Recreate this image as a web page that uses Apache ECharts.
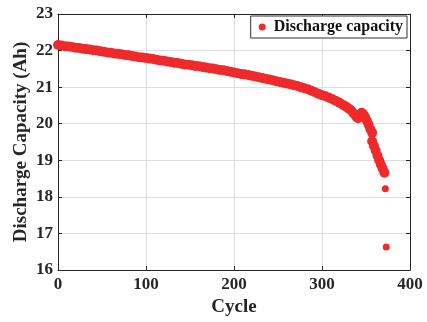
<!DOCTYPE html>
<html>
<head>
<meta charset="utf-8">
<script src="https://cdn.jsdelivr.net/npm/echarts@6/dist/echarts.min.js"></script>
<style>
  html, body { margin: 0; padding: 0; background: #fff; }
  #chart { width: 427px; height: 322px; }
</style>
</head>
<body>
<div id="chart"></div>
<script>
// 放电容量数据
var cycles = [
  0, 4, 8, 12, 16, 20, 24, 28, 32, 36, 40, 44, 48, 52, 56, 60, 64, 68, 72, 76, 80, 84, 88, 92, 96,
  100, 104, 108, 112, 116, 120, 124, 128, 132, 136, 140, 144, 148, 152, 156, 160, 164, 168, 172, 176, 180, 184, 188, 192, 196,
  200, 204, 208, 212, 216, 220, 224, 228, 232, 236, 240, 244, 248, 252, 256, 260, 264, 268, 272, 276, 280, 284, 288, 292, 296,
  300, 304, 308, 312, 316, 320, 324, 327, 330, 333, 336, 339, 341, 343, 345, 347, 349, 351, 353, 355, 357,
  357, 359, 361, 363, 365, 367, 369, 371, 372, 373
]
var capacity = [
  22.15, 22.14, 22.12, 22.11, 22.10, 22.08, 22.07, 22.05, 22.04, 22.03, 22.01, 22.00, 21.98, 21.97, 21.95, 21.94, 21.92, 21.91, 21.90, 21.88, 21.87, 21.85, 21.84, 21.82, 21.81,
  21.80, 21.78, 21.77, 21.75, 21.73, 21.72, 21.70, 21.69, 21.67, 21.66, 21.64, 21.62, 21.61, 21.60, 21.58, 21.57, 21.55, 21.54, 21.52, 21.51, 21.49, 21.47, 21.46, 21.44, 21.42,
  21.40, 21.38, 21.36, 21.35, 21.33, 21.31, 21.29, 21.27, 21.25, 21.23, 21.21, 21.19, 21.16, 21.14, 21.12, 21.10, 21.08, 21.05, 21.03, 21.00, 20.97, 20.94, 20.90, 20.86, 20.82,
  20.78, 20.75, 20.71, 20.67, 20.62, 20.57, 20.51, 20.47, 20.42, 20.37, 20.28, 20.19, 20.15, 20.22, 20.30, 20.26, 20.18, 20.08, 19.97, 19.85, 19.75,
  19.52, 19.40, 19.27, 19.13, 19.00, 18.88, 18.77, 18.66, 18.22, 16.63
]
var xTicks = [0, 100, 200, 300, 400]
var yTicks = [16, 17, 18, 19, 20, 21, 22, 23]

var fontFamily = '"Liberation Serif", "Times New Roman", serif'
var axisColor = '#262626'
var red = '#ee2a2a'

var points = cycles.map(function (c, i) { return [c, capacity[i]] })

var chart = echarts.init(document.getElementById('chart'))

function baseX (pos, showLabel) {
  return {
    type: 'value',
    position: pos,
    min: xTicks[0],
    max: xTicks[xTicks.length - 1],
    interval: 100,
    axisLine: { show: true, onZero: false, lineStyle: { color: axisColor, width: 1 } },
    axisTick: { show: true, inside: true, length: 4, lineStyle: { color: axisColor } },
    axisLabel: {
      show: showLabel,
      color: axisColor,
      fontFamily: fontFamily,
      fontWeight: 'bold',
      fontSize: 17,
      margin: 6
    },
    splitLine: { show: showLabel, lineStyle: { color: '#dedede', width: 1 } }
  }
}

function baseY (pos, showLabel) {
  return {
    type: 'value',
    position: pos,
    min: yTicks[0],
    max: yTicks[yTicks.length - 1],
    interval: 1,
    axisLine: { show: true, onZero: false, lineStyle: { color: axisColor, width: 1 } },
    axisTick: { show: true, inside: true, length: 4, lineStyle: { color: axisColor } },
    axisLabel: {
      show: showLabel,
      color: axisColor,
      fontFamily: fontFamily,
      fontWeight: 'bold',
      fontSize: 17,
      margin: 5
    },
    splitLine: { show: showLabel, lineStyle: { color: '#dedede', width: 1 } }
  }
}

var xBottom = baseX('bottom', true)
xBottom.name = 'Cycle'
xBottom.nameLocation = 'middle'
xBottom.nameGap = 28
xBottom.nameMoveOverlap = false
xBottom.nameTextStyle = { color: axisColor, fontFamily: fontFamily, fontWeight: 'bold', fontSize: 19 }

var yLeft = baseY('left', true)
yLeft.name = 'Discharge Capacity (Ah)'
yLeft.nameLocation = 'middle'
yLeft.nameGap = 27
yLeft.nameMoveOverlap = false
yLeft.nameTextStyle = { color: axisColor, fontFamily: fontFamily, fontWeight: 'bold', fontSize: 19 }

var options = {
  animation: false,
  backgroundColor: '#fff',
  grid: { left: 58, right: 17, top: 14, bottom: 49, containLabel: false },
  legend: {
    right: 20,
    top: 16,
    padding: [3, 4, 3, 8],
    itemGap: 0,
    itemWidth: 7,
    itemHeight: 7,
    borderColor: '#333',
    borderWidth: 1,
    backgroundColor: '#fff',
    icon: 'circle',
    textStyle: { color: '#111', fontFamily: fontFamily, fontWeight: 'bold', fontSize: 16, padding: [0, 0, 0, 3] },
    data: ['Discharge capacity']
  },
  xAxis: [xBottom, baseX('top', false)],
  yAxis: [yLeft, baseY('right', false)],
  series: [
    {
      name: 'Discharge capacity',
      type: 'scatter',
      xAxisIndex: 0,
      yAxisIndex: 0,
      symbol: 'circle',
      // 连续段点更粗，末尾孤立点较小
      symbolSize: function (val, params) {
        return params.dataIndex >= points.length - 2 ? 7 : 10
      },
      itemStyle: { color: red, opacity: 1 },
      data: points
    }
  ]
}

chart.setOption(options, true)
</script>
</body>
</html>
